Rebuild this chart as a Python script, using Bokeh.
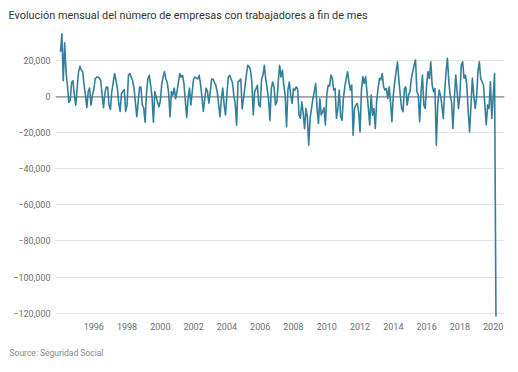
from bokeh.plotting import figure
from bokeh.models import Range1d, FixedTicker, Span, Title, ColumnDataSource
from bokeh.embed import file_html
from bokeh.resources import INLINE

title_text = "Evolución mensual del número de empresas con trabajadores a fin de mes"
source_text = "Source: Seguridad Social"

# Monthly change in the number of companies with workers (thousands), Jan..Dec
start_year = 1994
v1994 = [25, 35, 9, 30, 14, 6.5, -3, -2, 8, 9, 1, -4.6]
v1995 = [5, 14, 17, 15, 14, 6.5, 1, -6, 3, 5, -4.5, 1]
v1996 = [4, 10, 11, 11, 10.5, 9, 1, -6, 2, 5.5, 5.5, -4.5]
v1997 = [-7, 3, 8, 13, 9, 5, -3.5, -8, 2, 3, 4, -8]
v1998 = [-4.5, 12, 13, 11, 9, 5, -3, -11, -3, 5.5, 5.5, -4.5]
v1999 = [-6, -14, 2, 10, 12, 6.5, 0, -14, 3, 0, -3, -5.5]
v2000 = [-2, 7, 11, 14, 10, 8, 2, -11, 3, 1, 5, -1]
v2001 = [3, 8, 13, 11, 12, 7.5, -2, -11.5, -1, 5, -4.5, 3]
v2002 = [10, 11, 10.5, 10, 12, 7, 0, -8, -1, 5, 3, -3.5]
v2003 = [3, 10, 10, 8, 6.5, 3, -4, -11, -1, 5, -4.5, -10]
v2004 = [2, 11, 12, 10, 8, 1, -4, -15.7, 8.5, 9, 10, -6.5]
v2005 = [-1, 5.5, 12, 17.6, 16.7, 15, 8.3, -10, 3, 4.6, 6.5, -4.5]
v2006 = [-5.5, 10, 12, 17.6, 10, 4.6, -1, -13, 4.6, 8.3, 5.5, -4.5]
v2007 = [-2.7, 8, 17.6, 11, 14.8, 6.5, 1, -16.5, 4, 8.3, 1, -3.6]
v2008 = [4.6, 3.7, 5.5, 4.6, -10, -11.8, -2.7, -9, -17.6, -6.5, -11, -26.8]
v2009 = [-11.8, -6.5, -1, 3, 7.5, -6.5, -14.7, -1, -10, -8.3, -6, -15.6]
v2010 = [1, 6.5, 6, 12.1, 10.3, 3.8, 4.7, -11.9, -6.4, 3.8, -11, -12.9]
v2011 = [-0.8, 5.6, 10, 14, 8.4, 3.8, 6.6, -21.2, -6.4, -4.5, -3.6, -8.2]
v2012 = [-19.4, 3.8, 11.2, 7.5, 11.2, 2.9, -6.4, -15.6, 1, -10.1, -6.4, -17.5]
v2013 = [-2, 4.7, 10.3, 9.4, 13, 5.6, 3.8, 4.7, -0.8, 5.6, -3, -13.8]
v2014 = [1, 8.4, 14, 19.5, 9.4, 1, -6.4, -8.2, 4.7, 5.6, -4.5, 1]
v2015 = [3, 10.3, 14, 17.7, 20.5, 3, 1, -13.8, 2.9, 12.1, -4.5, -6.4]
v2016 = [6.6, 14, 10.3, 19.5, 6.6, 2.9, 4.7, -26.8, -4.5, 3.8, 1, -4.5]
v2017 = [-11.9, 2.9, 14, 21.4, 8.4, 1, -3, -17.5, -0.8, 12.1, 2.9, -6.4]
v2018 = [1, 17.7, 19.5, 10.3, 12.1, 6.6, -8.2, -19.4, -4.5, 10.3, 1, -6.4]
v2019 = [-0.8, 14, 19.5, 10.3, 8.4, 6.6, -4.5, -15.6, -4.5, -6.4, 8.4, -11.9]
v2020 = [0, 13, -122]

x_ticks = [1996, 1998, 2000, 2002, 2004, 2006, 2008, 2010, 2012, 2014, 2016, 2018, 2020]
x_tick_labels = ["1996", "1998", "2000", "2002", "2004", "2006", "2008", "2010",
                 "2012", "2014", "2016", "2018", "2020"]
y_ticks = [-120000, -100000, -80000, -60000, -40000, -20000, 0, 20000]
y_tick_labels = ["\u2212120,000", "\u2212100,000", "\u221280,000", "\u221260,000",
                 "\u221240,000", "\u221220,000", "0", "20,000"]

yearly = [v1994, v1995, v1996, v1997, v1998, v1999, v2000, v2001, v2002, v2003,
          v2004, v2005, v2006, v2007, v2008, v2009, v2010, v2011, v2012, v2013,
          v2014, v2015, v2016, v2017, v2018, v2019, v2020]
values = [v * 1000 for lst in yearly for v in lst]
dates = [start_year + i / 12 for i in range(len(values))]
src = ColumnDataSource(data=dict(x=dates, y=values))

p = figure(width=516, height=371, output_backend="svg", toolbar_location=None,
           x_range=Range1d(1993.70, 2020.68), y_range=Range1d(-123600, 36900),
           min_border_left=55, min_border_right=12, min_border_top=30,
           min_border_bottom=52)
p.outline_line_color = None
p.background_fill_color = "white"
p.border_fill_color = "white"

p.title.text = title_text
p.title.align = "left"
p.title.offset = -47
p.title.vertical_align = "top"
p.title.standoff = 14
p.title.text_font = "Roboto"
p.title.text_font_size = "10.9px"
p.title.text_font_style = "normal"
p.title.text_color = "#333333"

p.xgrid.grid_line_color = None
p.ygrid.grid_line_color = "#e4e4e4"
p.ygrid.grid_line_width = 1
p.ygrid.ticker = FixedTicker(ticks=y_ticks)

for ax in (p.xaxis[0], p.yaxis[0]):
    ax.axis_line_color = None
    ax.major_tick_line_color = None
    ax.minor_tick_line_color = None
    ax.major_tick_out = 0
    ax.major_tick_in = 0
    ax.major_label_text_font = "Roboto"
    ax.major_label_text_font_size = "9px"
    ax.major_label_text_color = "#6e6e6e"

p.xaxis.ticker = FixedTicker(ticks=x_ticks)
p.xaxis.major_label_overrides = {t: l for t, l in zip(x_ticks, x_tick_labels)}
p.xaxis.major_label_standoff = 3
p.yaxis.ticker = FixedTicker(ticks=y_ticks)
p.yaxis.major_label_overrides = {t: l for t, l in zip(y_ticks, y_tick_labels)}
p.yaxis.major_label_standoff = 5

zero = Span(location=0, dimension="width", line_color="#6a6a6a", line_width=1,
            level="underlay")
p.add_layout(zero)

p.line(x="x", y="y", source=src, line_color="#327f9c", line_width=1.6,
       line_join="round")

src_note = Title(text=source_text, align="left", offset=-46, vertical_align="bottom",
                 standoff=26, text_font="Roboto", text_font_size="8.5px",
                 text_font_style="normal", text_color="#888888")
p.add_layout(src_note, "below")

open("out.html", "w").write(file_html(p, INLINE))
